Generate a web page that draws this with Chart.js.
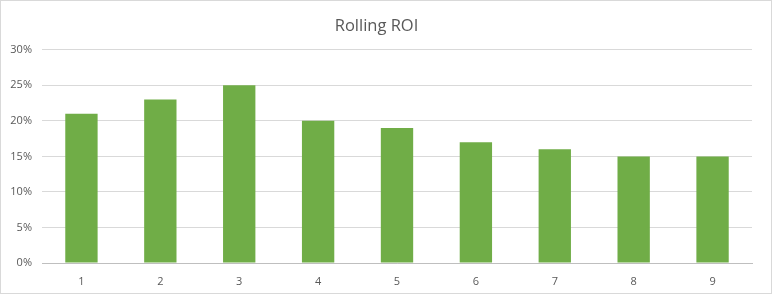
<!DOCTYPE html>
<html>
<head>
<meta charset="utf-8">
<script src="https://cdn.jsdelivr.net/npm/chart.js@4"></script>
<style>
  html, body { margin: 0; padding: 0; background: #fff; }
  .wrap { width: 772px; height: 294px; box-sizing: border-box; border: 1px solid #d9d9d9; }
  canvas { display: block; }
</style>
</head>
<body>
<div class="wrap"><canvas id="roi" width="770" height="292"></canvas></div>
<script>
const periods = ["1", "2", "3", "4", "5", "6", "7", "8", "9"];
const roiValues = [21, 23, 25, 20, 19, 17, 16, 15, 15];

const ctx = document.getElementById("roi");

const chart = new Chart(ctx, {
    type: "bar",
    data: {
        labels: periods,
        datasets: [{
            label: "Rolling ROI",
            data: roiValues,
            backgroundColor: "#70AD47",
            categoryPercentage: 1,
            barPercentage: 0.41
        }]
    },
    options: {
        responsive: false,
        animation: false,
        layout: { padding: { left: 0, right: 19, top: 0, bottom: 0 } },
        plugins: {
            legend: { display: false },
            tooltip: { enabled: false },
            title: {
                display: true,
                text: "Rolling ROI",
                color: "#595959",
                font: { family: "Open Sans", size: 16.5, weight: "normal" },
                padding: { top: 15, bottom: 14 }
            }
        },
        scales: {
            x: {
                grid: { display: false },
                border: { color: "#bfbfbf" },
                ticks: {
                    color: "#595959",
                    font: { family: "Open Sans", size: 11 },
                    padding: 4
                },
                afterFit: (scale) => { scale.height = 30; }
            },
            y: {
                min: 0,
                max: 30,
                ticks: {
                    stepSize: 5,
                    color: "#595959",
                    font: { family: "Open Sans", size: 11 },
                    padding: 10,
                    callback: (v) => v + "%"
                },
                grid: { color: "#d9d9d9", drawTicks: false },
                border: { display: false },
                afterFit: (scale) => { scale.width = 41; }
            }
        }
    }
});
</script>
</body>
</html>
